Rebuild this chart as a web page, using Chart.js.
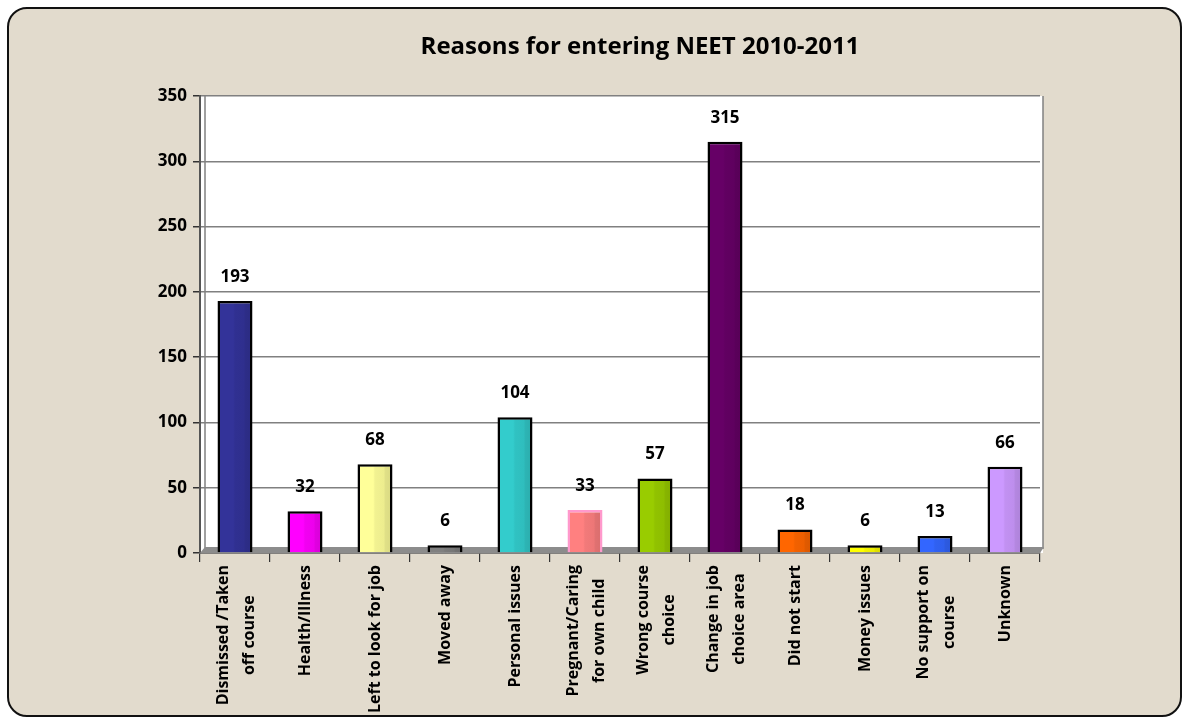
<!DOCTYPE html>
<html>
<head>
<meta charset="utf-8">
<script src="https://cdn.jsdelivr.net/npm/chart.js@4.4.1/dist/chart.umd.min.js"></script>
<style>
  body { margin: 0; background: #fff; }
  #frame {
    position: absolute; left: 7px; top: 7px; width: 1175px; height: 710px;
    box-sizing: border-box; border: 2px solid #111; border-radius: 20px;
    background: #e2dbcd;
  }
  #wrap { position: absolute; left: 0; top: 0; width: 1183px; height: 717px; }
</style>
</head>
<body>
<div id="frame"></div>
<div id="wrap"><canvas id="chart"></canvas></div>
<script>
const title = 'Reasons for entering NEET 2010-2011';

const categories = [
    ['Dismissed /Taken', 'off course'],
    ['Health/Illness'],
    ['Left to look for job'],
    ['Moved away'],
    ['Personal issues'],
    ['Pregnant/Caring', 'for own child'],
    ['Wrong course', 'choice'],
    ['Change in job', 'choice area'],
    ['Did not start'],
    ['Money issues'],
    ['No support on', 'course'],
    ['Unknown']
];

const counts = [193, 32, 68, 6, 104, 33, 57, 315, 18, 6, 13, 66];

const yTicks = [0, 50, 100, 150, 200, 250, 300, 350];

const barColors = ['#333399', '#ff00ff', '#ffff99', '#808080', '#33cccc', '#ff8080',
                   '#99cc00', '#660066', '#ff6600', '#ffff00', '#3366ff', '#cc99ff'];
const barBorders = ['#000', '#000', '#000', '#000', '#000', '#ff99cc',
                    '#000', '#000', '#000', '#000', '#000', '#000'];

const FONT = '"Open Sans", Lato, sans-serif';

// darken/lighten a hex colour by a factor
function shade(hex, f) {
    let n = parseInt(hex.slice(1), 16);
    let r = (n >> 16) & 255, g = (n >> 8) & 255, b = n & 255;
    const m = v => Math.max(0, Math.min(255, Math.round(v * f)));
    return 'rgb(' + m(r) + ',' + m(g) + ',' + m(b) + ')';
}

const decor = {
    id: 'decor',
    beforeDraw(chart) {
        const {ctx, chartArea: a} = chart;
        ctx.save();
        ctx.fillStyle = '#fff';
        ctx.fillRect(a.left, a.top, a.right - a.left + 3, a.bottom - a.top);
        ctx.strokeStyle = '#808080';
        ctx.lineWidth = 1.5;
        ctx.beginPath();
        ctx.moveTo(a.right + 3, a.top);
        ctx.lineTo(a.right + 3, a.bottom - 4);
        ctx.stroke();
        ctx.restore();
    },
    beforeDatasetsDraw(chart) {
        const {ctx, chartArea: a} = chart;
        ctx.save();
        // left wall
        ctx.strokeStyle = '#808080';
        ctx.lineWidth = 1.5;
        ctx.beginPath();
        ctx.moveTo(a.left + 5, a.top);
        ctx.lineTo(a.left + 5, a.bottom - 5);
        ctx.stroke();
        // floor
        ctx.fillStyle = '#8c8c8c';
        ctx.beginPath();
        ctx.moveTo(a.left, a.bottom);
        ctx.lineTo(a.left + 5, a.bottom - 6);
        ctx.lineTo(a.right + 4, a.bottom - 6);
        ctx.lineTo(a.right, a.bottom);
        ctx.closePath();
        ctx.fill();
        ctx.restore();

        // shaded bars
        const meta = chart.getDatasetMeta(0);
        meta.data.forEach((bar, i) => {
            const w = bar.width;
            const g = ctx.createLinearGradient(bar.x - w / 2, 0, bar.x + w / 2, 0);
            const c = barColors[i];
            g.addColorStop(0, shade(c, 1.0));
            g.addColorStop(0.45, shade(c, 1.0));
            g.addColorStop(0.5, shade(c, 0.95));
            g.addColorStop(0.75, shade(c, 0.93));
            g.addColorStop(0.8, shade(c, 0.88));
            g.addColorStop(1, shade(c, 0.85));
            bar.options.backgroundColor = g;
        });
    },
    afterDatasetsDraw(chart) {
        const {ctx} = chart;
        const meta = chart.getDatasetMeta(0);
        ctx.save();
        ctx.fillStyle = '#000';
        ctx.font = 'bold 17px ' + FONT;
        ctx.textAlign = 'center';
        ctx.textBaseline = 'middle';
        meta.data.forEach((bar, i) => {
            ctx.fillText(String(counts[i]), bar.x, bar.y - 24);
        });
        ctx.restore();
    },
    afterDraw(chart) {
        const {ctx, scales} = chart;
        ctx.save();
        ctx.fillStyle = '#000';
        ctx.font = 'bold 24px ' + FONT;
        ctx.textAlign = 'center';
        ctx.textBaseline = 'middle';
        ctx.fillText(title, 640, 47);

        // rotated category labels, lines centred on each other
        ctx.font = 'bold 16px ' + FONT;
        const top = chart.chartArea.bottom + 12;
        categories.forEach((lines, i) => {
            const x = scales.x.getPixelForValue(i);
            const maxW = Math.max(...lines.map(l => ctx.measureText(l).width));
            const offs = lines.length === 1 ? [0] : [-12, 14];
            lines.forEach((line, k) => {
                ctx.save();
                ctx.translate(x + offs[k], top + maxW / 2);
                ctx.rotate(-Math.PI / 2);
                ctx.fillText(line, 0, 0);
                ctx.restore();
            });
        });
        ctx.restore();
    }
};

new Chart(document.getElementById('chart'), {
    type: 'bar',
    data: {
        labels: categories.map(c => c.join(' ')),
        datasets: [{
            data: counts,
            backgroundColor: barColors,
            borderColor: barBorders,
            borderWidth: 2.5,
            barPercentage: 0.5,
            categoryPercentage: 1
        }]
    },
    options: {
        responsive: true,
        maintainAspectRatio: false,
        animation: false,
        layout: { padding: { left: 0, right: 143, top: 96, bottom: 0 } },
        plugins: { legend: { display: false }, tooltip: { enabled: false } },
        scales: {
            x: {
                afterFit: s => { s.height = 164; },
                grid: { offset: true, drawOnChartArea: false, tickLength: 9, tickColor: '#333', lineWidth: 1.2 },
                border: { color: '#555', width: 1.5 },
                ticks: { display: false }
            },
            y: {
                min: 0,
                max: 350,
                afterFit: s => { s.width = 200; },
                afterBuildTicks: s => { s.ticks = yTicks.map(v => ({ value: v })); },
                grid: { color: '#808080', lineWidth: 1.5, tickLength: 7, tickColor: '#333' },
                border: { color: '#555', width: 2 },
                ticks: {
                    color: '#000',
                    padding: 6,
                    font: { family: FONT, size: 17, weight: 'bold' }
                }
            }
        }
    },
    plugins: [decor]
});
</script>
</body>
</html>
